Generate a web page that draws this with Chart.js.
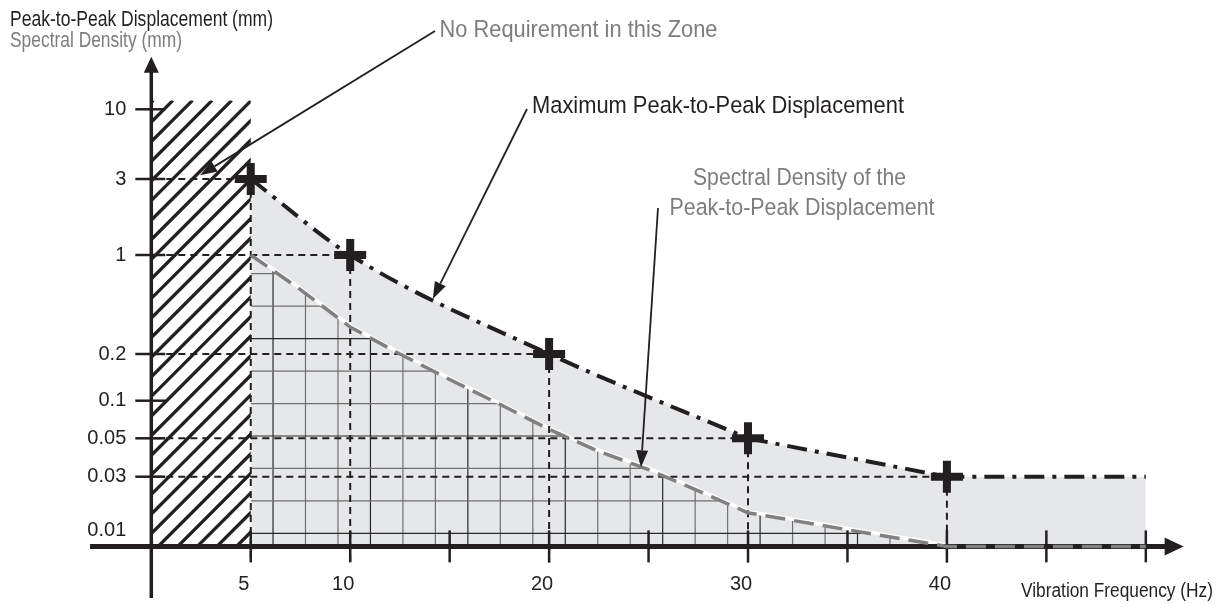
<!DOCTYPE html>
<html><head><meta charset="utf-8">
<script src="https://cdn.jsdelivr.net/npm/chart.js@4.4.1/dist/chart.umd.min.js"></script>
<style>html,body{margin:0;padding:0;background:#fff;}canvas{display:block;}</style>
</head><body>
<canvas id="c" width="1223" height="604"></canvas>
<script>
// ---------------- data ----------------
const limitFreqs   = [5, 10, 20, 30, 40];            // Hz
const limitValues  = [3, 1, 0.2, 0.05, 0.03];        // mm peak-to-peak
const limitEndFreq = 50;                              // flat limit continues to here
const limitSmoothUntil = 30;                          // curve is drawn smooth up to this frequency, straight after
const spectralFreqs  = [5, 7.5, 10, 12.5, 15, 17.5, 20, 22.5, 25, 27.5, 30, 35, 40, 45, 50];
const spectralValues = [1, 0.57, 0.31, 0.2, 0.137, 0.094, 0.059, 0.042, 0.033, 0.024, 0.017, 0.013, 0.01, 0.01, 0.01];
const noReqZoneFreqs = [0, 5];
const noReqZoneTop   = 11.5;
const yTickValues = [0.01, 0.03, 0.05, 0.1, 0.2, 1, 3, 10];
const yTickLabels = ['0.01', '0.03', '0.05', '0.1', '0.2', '1', '3', '10'];
const xTickValues = [5, 10, 15, 20, 25, 30, 35, 40, 45, 50];
const xTickLabels = ['5', '10', '', '20', '', '30', '', '40', '', ''];
const xRange = [0, 52];
const yRange = [0.01, 22.96];
// annotation arrow tips in data coordinates
const noteTips = [[2.45, 3.2], [14.15, 0.49], [24.62, 0.034]];

// -------------- styles ----------------
const INK = '#231f20', GRAY = '#7d7d7d', FILL = '#e6e7e8', SPEC = '#808080';
function hasFont(name){
  const c = document.createElement('canvas').getContext('2d');
  const s = 'abcdefghijklmnopqrstuvwxyz 0123456789';
  c.font = '40px monospace'; const a = c.measureText(s).width;
  c.font = '40px "' + name + '", monospace'; const b = c.measureText(s).width;
  return Math.abs(a - b) > 0.5;
}
const FAM = (hasFont('Liberation Sans Narrow') ? '"Liberation Sans Narrow", ' : '') + '"Liberation Sans", Arial, sans-serif';

// The reference's vertical axis is a hand-drawn log axis whose ticks are slightly displaced;
// this table maps value -> axis position (in decades) as drawn.
const yAxisWarp = [[0.01,-2],[0.03,-1.5216],[0.05,-1.2581],[0.1,-1],[0.2,-0.6795],[1,0],[3,0.5216],[10,1],[100,2]];
const WA = yAxisWarp.map(([v, w]) => [Math.log10(v), w]);
function interp(t, ia, ib){
  let i = 0;
  while (i < WA.length - 2 && t > WA[i + 1][ia]) i++;
  const a0 = WA[i][ia], a1 = WA[i + 1][ia], b0 = WA[i][ib], b1 = WA[i + 1][ib];
  return b0 + (t - a0) * (b1 - b0) / (a1 - a0);
}
const warp = l => interp(l, 0, 1), unwarp = w => interp(w, 1, 0);

const LogBase = Chart.LogarithmicScale || Chart.registry.getScale('logarithmic');
class WarpedLogScale extends LogBase {
  getPixelForValue(value){
    if (value === undefined || value === 0) value = this.min;
    if (value === null || isNaN(value)) return NaN;
    const s = warp(Math.log10(this.min)), e = warp(Math.log10(this.max));
    return this.getPixelForDecimal((warp(Math.log10(value)) - s) / (e - s));
  }
  getValueForPixel(pixel){
    const s = warp(Math.log10(this.min)), e = warp(Math.log10(this.max));
    return Math.pow(10, unwarp(s + this.getDecimalForPixel(pixel) * (e - s)));
  }
}
WarpedLogScale.id = 'warpedLog';
WarpedLogScale.defaults = {};
Chart.register(WarpedLogScale);

function line(ctx, x0, y0, x1, y1){ ctx.beginPath(); ctx.moveTo(x0, y0); ctx.lineTo(x1, y1); ctx.stroke(); }
function fitText(ctx, text, x, y, size, width, color){
  ctx.save();
  ctx.font = size + 'px ' + FAM;
  const w = ctx.measureText(text).width;
  ctx.translate(x, y); ctx.scale(width / w, 1);
  ctx.fillStyle = color; ctx.textAlign = 'left'; ctx.textBaseline = 'alphabetic';
  ctx.fillText(text, 0, 0);
  ctx.restore();
}
function leader(ctx, x0, y0, x1, y1){
  ctx.save();
  ctx.strokeStyle = INK; ctx.fillStyle = INK; ctx.lineWidth = 1.8;
  const ang = Math.atan2(y1 - y0, x1 - x0), L = 17, W = 6;
  const bx = x1 - Math.cos(ang) * L, by = y1 - Math.sin(ang) * L;
  line(ctx, x0, y0, bx, by);
  ctx.beginPath(); ctx.moveTo(x1, y1);
  ctx.lineTo(bx + Math.sin(ang) * W, by - Math.cos(ang) * W);
  ctx.lineTo(bx - Math.sin(ang) * W, by + Math.cos(ang) * W);
  ctx.closePath(); ctx.fill();
  ctx.restore();
}

const GRID_START_HZ = 6.12, GRID_STEP_HZ = 1.6325;
const SPECTRAL_IDX = 3;

const decor = {
  id: 'decor',
  beforeDatasetsDraw(chart){
    const {ctx, chartArea: a, scales: {x, y}} = chart;
    const X = v => x.getPixelForValue(v), Y = v => y.getPixelForValue(v);
    // hatched "no requirement" zone
    ctx.save();
    const hx0 = X(noReqZoneFreqs[0]), hx1 = X(noReqZoneFreqs[1]), hy0 = Y(noReqZoneTop), hy1 = a.bottom;
    ctx.beginPath(); ctx.rect(hx0, hy0, hx1 - hx0, hy1 - hy0); ctx.clip();
    ctx.strokeStyle = INK; ctx.lineWidth = 3.3;
    const H = hy1 - hy0;
    for (let s = hx0 - H; s < hx1 + 20; s += 19.6) line(ctx, s, hy1 + 2, s + H + 2, hy0);
    ctx.restore();

    // grid under the spectral density curve
    const endIdx = spectralValues.indexOf(Math.min(...spectralValues));
    const pts = chart.getDatasetMeta(SPECTRAL_IDX).data.slice(0, endIdx + 1);
    const last = pts[pts.length - 1];
    ctx.save();
    ctx.beginPath(); ctx.moveTo(pts[0].x, a.bottom);
    pts.forEach(p => ctx.lineTo(p.x, p.y));
    ctx.lineTo(last.x, a.bottom); ctx.closePath(); ctx.clip();
    const step = X(GRID_STEP_HZ) - X(0);
    ctx.lineWidth = 1.2;
    let k = 0;
    for (let gx = X(GRID_START_HZ); gx < last.x; gx += step, k++){
      ctx.strokeStyle = k % 3 === 0 ? '#2a2a2a' : '#707070';
      line(ctx, gx, a.bottom, gx, pts[0].y);
    }
    let j = 0;
    for (let gy = a.bottom - 0.4 * step; gy > pts[0].y; gy -= step, j++){
      ctx.strokeStyle = j % 3 === 0 ? '#2a2a2a' : '#707070';
      line(ctx, pts[0].x, gy, last.x, gy);
    }
    ctx.restore();

    // white edge along the spectral curve
    ctx.save();
    ctx.strokeStyle = '#ffffff'; ctx.lineWidth = 3.5; ctx.lineJoin = 'round';
    ctx.beginPath(); pts.forEach((p, i) => i ? ctx.lineTo(p.x, p.y - 1.3) : ctx.moveTo(p.x, p.y - 1.3)); ctx.stroke();
    ctx.restore();

    // dashed reference lines
    ctx.save();
    ctx.strokeStyle = INK; ctx.lineWidth = 2; ctx.setLineDash([7, 5]);
    limitFreqs.forEach((f, i) => {
      const px = X(f), py = Y(limitValues[i]);
      line(ctx, a.left + 3, py, px, py);
      line(ctx, px, py, px, a.bottom + 16);
    });
    ctx.restore();

    // axes with arrows
    ctx.save();
    ctx.strokeStyle = INK; ctx.fillStyle = INK;
    ctx.lineWidth = 3.5; line(ctx, a.left, a.top + 12, a.left, 598);
    ctx.beginPath(); ctx.moveTo(a.left, a.top); ctx.lineTo(a.left - 7.5, a.top + 16); ctx.lineTo(a.left + 7.5, a.top + 16); ctx.closePath(); ctx.fill();
    ctx.lineWidth = 5; line(ctx, 90, a.bottom, a.right - 18, a.bottom);
    const tipX = a.right - 2;
    ctx.beginPath(); ctx.moveTo(tipX, a.bottom); ctx.lineTo(tipX - 19, a.bottom - 9); ctx.lineTo(tipX - 19, a.bottom + 9); ctx.closePath(); ctx.fill();
    ctx.lineWidth = 2.5;
    y.ticks.forEach((t, i) => { if (t.value === yRange[0]) return; const py = y.getPixelForTick(i); line(ctx, a.left - 16, py, a.left + 14, py); });
    x.ticks.forEach((t, i) => { const px = x.getPixelForTick(i); line(ctx, px, a.bottom - 16, px, a.bottom + 16); });
    ctx.restore();
  },
  afterDatasetsDraw(chart){
    const {ctx, scales: {x, y}} = chart;
    const tip = i => [x.getPixelForValue(noteTips[i][0]), y.getPixelForValue(noteTips[i][1])];
    fitText(ctx, 'Peak-to-Peak Displacement (mm)', 10, 25.5, 21.5, 263, INK);
    fitText(ctx, 'Spectral Density (mm)', 10, 47, 21.5, 172, GRAY);
    fitText(ctx, 'Vibration Frequency (Hz)', 1021, 597, 20, 192, INK);
    fitText(ctx, 'No Requirement in this Zone', 439.5, 37, 24.5, 278, GRAY);
    fitText(ctx, 'Maximum Peak-to-Peak Displacement', 532, 113, 24.5, 372, INK);
    fitText(ctx, 'Spectral Density of the', 693, 185, 24.5, 213, GRAY);
    fitText(ctx, 'Peak-to-Peak Displacement', 669.5, 215, 24.5, 265, GRAY);
    leader(ctx, 435, 31, ...tip(0));
    leader(ctx, 527, 109, ...tip(1));
    leader(ctx, 658, 208, ...tip(2));
  }
};

const limitPts = limitFreqs.map((f, i) => ({x: f, y: limitValues[i]}))
  .concat([{x: limitEndFreq, y: limitValues[limitValues.length - 1]}]);
const limitStyle = {
  borderColor: INK, borderWidth: 4, borderDash: [20, 8, 4, 8], borderCapStyle: 'butt',
  pointRadius: 0, fill: 'start', backgroundColor: FILL, order: 1, clip: false
};

new Chart(document.getElementById('c'), {
  type: 'line',
  data: {
    datasets: [
      {
        label: 'Limit points',
        data: limitFreqs.map((f, i) => ({x: f, y: limitValues[i]})),
        showLine: false, pointStyle: 'cross', pointRadius: 16, pointHoverRadius: 16,
        pointBorderWidth: 8, pointBorderColor: INK, borderColor: INK, order: 0, clip: false
      },
      Object.assign({
        label: 'Maximum Peak-to-Peak Displacement',
        data: limitPts.filter(p => p.x <= limitSmoothUntil),
        cubicInterpolationMode: 'monotone'
      }, limitStyle),
      Object.assign({
        label: 'Maximum Peak-to-Peak Displacement (high frequencies)',
        data: limitPts.filter(p => p.x >= limitSmoothUntil),
        tension: 0
      }, limitStyle),
      {
        label: 'Spectral Density of the Peak-to-Peak Displacement',
        data: spectralFreqs.map((f, i) => ({x: f, y: spectralValues[i]})),
        borderColor: SPEC, borderWidth: 3.5, borderDash: [20, 9], tension: 0,
        pointRadius: 0, fill: false, order: 2, clip: false
      }
    ]
  },
  options: {
    responsive: false, animation: false, events: [],
    layout: {padding: {left: 0, top: 56.7, right: 37.4, bottom: 0}},
    plugins: {legend: {display: false}, tooltip: {enabled: false}, filler: {drawTime: 'beforeDatasetsDraw'}},
    scales: {
      x: {
        type: 'linear', min: xRange[0], max: xRange[1],
        grid: {display: false, drawTicks: false}, border: {display: false},
        afterBuildTicks: s => { s.ticks = xTickValues.map(v => ({value: v})); },
        afterFit: s => { s.height = 57.6; },
        ticks: {autoSkip: false, maxRotation: 0, padding: 26, labelOffset: -7, color: INK,
                font: {family: FAM, size: 20}, callback: (v, i) => xTickLabels[i]}
      },
      y: {
        type: 'warpedLog', min: yRange[0], max: yRange[1],
        grid: {display: false, drawTicks: false}, border: {display: false},
        afterBuildTicks: s => { s.ticks = yTickValues.map(v => ({value: v})); },
        afterFit: s => { s.width = 151.3; },
        ticks: {autoSkip: false, padding: 25, color: INK,
                font: {family: FAM, size: 20, lineHeight: 1.6},
                callback: (v, i) => i === 0 ? [yTickLabels[i], ''] : yTickLabels[i]}
      }
    }
  },
  plugins: [decor]
});
</script>
</body></html>
